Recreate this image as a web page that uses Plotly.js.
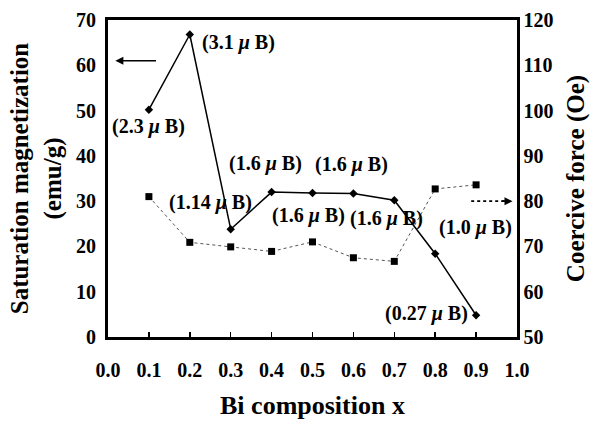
<!DOCTYPE html>
<html>
<head>
<meta charset="utf-8">
<script src="https://cdn.plot.ly/plotly-3.0.1.min.js"></script>
<style>html,body{margin:0;padding:0;background:#fff;}#chart{width:590px;height:421px;}</style>
</head>
<body>
<div id="chart"></div>
<script>
// Data
const composition = [0.1, 0.2, 0.3, 0.4, 0.5, 0.6, 0.7, 0.8, 0.9];
const saturationMagnetization = [50.2, 66.8, 23.8, 32.0, 31.8, 31.7, 30.2, 18.4, 4.8];
const coerciveForce = [81.0, 70.9, 69.9, 68.9, 71.0, 67.5, 66.7, 82.7, 83.6];
const momentLabels = ["(3.1 μ B)", "(2.3 μ B)", "(1.6 μ B)", "(1.6 μ B)", "(1.14 μ B)", "(1.6 μ B)", "(1.6 μ B)", "(1.0 μ B)", "(0.27 μ B)"];
const xTicks = [0, 0.1, 0.2, 0.3, 0.4, 0.5, 0.6, 0.7, 0.8, 0.9, 1.0];

const FONT = 'Liberation Serif, Times New Roman, serif';

const traces = [
  {
    x: composition, y: saturationMagnetization, type: 'scatter', mode: 'lines+markers',
    line: {color: '#000', width: 1.5},
    marker: {symbol: 'diamond', size: 6.5, color: '#000'},
    yaxis: 'y', hoverinfo: 'skip'
  },
  {
    x: composition, y: coerciveForce, type: 'scatter', mode: 'lines+markers',
    line: {color: '#555', width: 1, dash: 'dot'},
    marker: {symbol: 'square', size: 7, color: '#000'},
    yaxis: 'y2', hoverinfo: 'skip'
  }
];

// label placements (data coords)
const labelPos = [
  [0.318, 65.1], [0.099, 46.4], [0.384, 38.4], [0.596, 38.2],
  [0.250, 29.6], [0.489, 26.9], [0.682, 26.1], [0.899, 24.1], [0.779, 5.3]
];
const annotations = momentLabels.map((t, i) => ({
  x: labelPos[i][0], y: labelPos[i][1], xref: 'x', yref: 'y',
  text: t.replace('μ', '<i>μ</i>'), showarrow: false,
  font: {family: FONT, size: 20, color: '#000', weight: 'bold'},
  xanchor: 'center', yanchor: 'middle'
}));
// left-pointing arrow
annotations.push({
  x: 0.018, y: 61, xref: 'x', yref: 'y',
  ax: 0.121, ay: 61, axref: 'x', ayref: 'y',
  text: '', showarrow: true, arrowhead: 2, arrowsize: 1, arrowwidth: 1.6, arrowcolor: '#000'
});
// right-pointing arrow head (dotted shaft as shape)
annotations.push({
  x: 0.989, y: 80, xref: 'x', yref: 'y2',
  ax: 0.96, ay: 80, axref: 'x', ayref: 'y2',
  text: '', showarrow: true, arrowhead: 2, arrowsize: 1, arrowwidth: 1.6, arrowcolor: '#000'
});

const layout = {
  width: 590, height: 421,
  margin: {l: 107.5, r: 72.5, t: 20, b: 84},
  paper_bgcolor: '#fff', plot_bgcolor: '#fff',
  showlegend: false,
  font: {family: FONT, color: '#000', weight: 'bold'},
  xaxis: {
    range: [0, 1], tickvals: xTicks, tickformat: '.1f',
    showgrid: false, zeroline: false,
    showline: true, linecolor: '#000', linewidth: 3, mirror: true,
    ticks: 'inside', ticklen: 5, tickwidth: 1.5, tickcolor: '#000',
    tickfont: {family: FONT, size: 20, weight: 'bold'},
    ticklabelstandoff: 13,
    title: {text: 'Bi composition x', font: {family: FONT, size: 26, weight: 'bold'}, standoff: 16}
  },
  yaxis: {
    range: [0, 70], dtick: 10,
    showgrid: false, zeroline: false,
    showline: true, linecolor: '#000', linewidth: 3,
    ticks: '', tickfont: {family: FONT, size: 20, weight: 'bold'},
    ticklabelstandoff: 5,
    title: {text: 'Saturation magnetization<br>(emu/g)', font: {family: FONT, size: 25, weight: 'bold'}, standoff: 8}
  },
  yaxis2: {
    range: [50, 120], dtick: 10, overlaying: 'y', side: 'right',
    showgrid: false, zeroline: false,
    showline: true, linecolor: '#000', linewidth: 2.5,
    ticks: '', tickfont: {family: FONT, size: 20, weight: 'bold'},
    title: {text: 'Coercive force (Oe)', font: {family: FONT, size: 25, weight: 'bold'}, standoff: 23}
  },
  shapes: [{
    type: 'line', xref: 'x', yref: 'y2', x0: 0.888, x1: 0.975, y0: 80, y1: 80,
    line: {color: '#000', width: 1.6, dash: 'dot'}
  }],
  annotations: annotations
};

Plotly.newPlot('chart', traces, layout, {staticPlot: true, displayModeBar: false});
</script>
</body>
</html>
